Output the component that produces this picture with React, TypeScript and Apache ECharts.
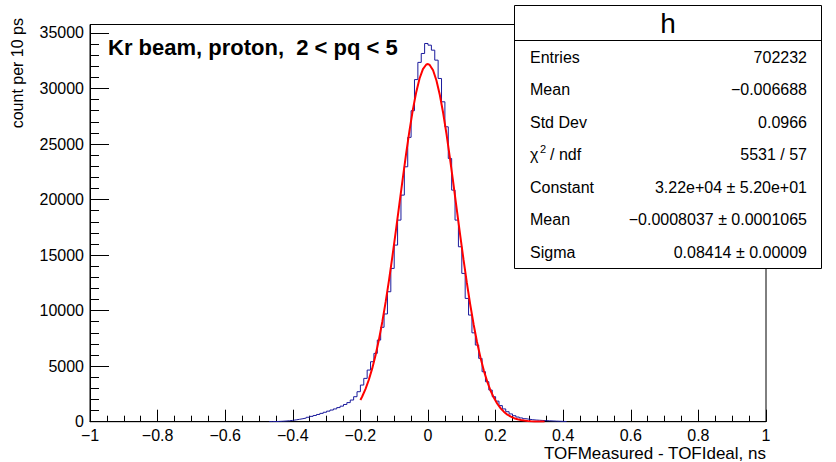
import React, { useEffect, useRef } from "react";
import * as echarts from "echarts";

// ---- data ----
const binWidth = 0.01; // 10 ps bins
const firstBinEdge = -0.47;
const binCounts = [
  8, 15, 25, 40, 60, 85, 120, 165, 215, 270, 330, 400, 480, 560, 650, 750, 850, 950, 1050, 1150,
  1270, 1400, 1550, 1720, 1950, 2250, 2700,
  3300, 3900, 4650, 5400, 6150, 7350, 8500, 9700, 11700, 13800, 15900, 18150, 20400, 22950, 25600,
  28000, 30800, 32350, 33150, 34050,
  33900, 33450, 32550, 30900, 28800, 26550, 23700, 20850, 18150, 15750, 13350, 11100, 9600, 8000,
  6900, 5700, 4500, 3600, 2850, 2250, 1850, 1450, 1150, 900, 700, 540, 420, 340, 270, 220, 180,
  150, 130, 110, 95, 80, 65, 50, 40, 30, 15,
];

const fitX = [
  -0.2, -0.195, -0.185, -0.175, -0.165, -0.155, -0.145, -0.135, -0.125, -0.115, -0.105, -0.095,
  -0.085, -0.075, -0.065, -0.055, -0.045, -0.035, -0.025, -0.015, -0.005, 0, 0.005, 0.015, 0.025,
  0.035, 0.045, 0.055, 0.065, 0.075, 0.085, 0.095, 0.105, 0.115, 0.125, 0.135, 0.145, 0.155, 0.165,
  0.175, 0.185, 0.195, 0.205, 0.215, 0.225, 0.235, 0.245, 0.255, 0.265, 0.275, 0.285, 0.295, 0.305,
  0.315, 0.325, 0.335, 0.345,
];
const fitY = [
  1955, 2245, 2933, 3777, 4798, 6005, 7416, 9026, 10832, 12819, 14957, 17205, 19516, 21826, 24067,
  26166, 28053, 29646, 30896, 31745, 32160, 32199, 32120, 31637, 30722, 29414, 27765, 25845, 23716,
  21458, 19146, 16841, 14606, 12490, 10529, 8755, 7177, 5799, 4621, 3629, 2811, 2148, 1617, 1201,
  879, 634, 451, 317, 219, 150, 100, 67, 44, 28, 18, 11, 7,
];

const xMin = -1;
const xMax = 1;
const xStep = 0.2;
const yMax = 35760;
const yMajorTicks = [0, 5000, 10000, 15000, 20000, 25000, 30000, 35000];
const yMinorStep = 1000;

const titleText = "Kr beam, proton,  2 < pq < 5";
const yTitle = "count per 10 ps";
const xTitle = "TOFMeasured - TOFIdeal, ns";

const statsTitle = "h";
const statLabels = ["Entries", "Mean", "Std Dev", "CHI2", "Constant", "Mean", "Sigma"];
const statValues = [
  "702232",
  "\u22120.006688",
  "0.0966",
  "5531 / 57",
  "3.22e+04 \u00b1 5.20e+01",
  "\u22120.0008037 \u00b1 0.0001065",
  "0.08414 \u00b1 0.00009",
];

const FONT = '"Liberation Sans", Arial, Helvetica, sans-serif';

export default function App() {
  const ref = useRef<HTMLDivElement>(null);

  useEffect(() => {
    document.body.style.margin = "0";
    if (!ref.current) return;
    const chart = echarts.init(ref.current, null, { renderer: "svg", width: 836, height: 462 });

    // histogram outline built from bins
    const r = (v: number) => Math.round(v * 1000) / 1000;
    const histPoints: number[][] = [];
    histPoints.push([r(firstBinEdge), 0]);
    binCounts.forEach((c, i) => {
      const e0 = r(firstBinEdge + i * binWidth);
      const e1 = r(firstBinEdge + (i + 1) * binWidth);
      histPoints.push([e0, c]);
      histPoints.push([e1, c]);
    });
    histPoints.push([r(firstBinEdge + binCounts.length * binWidth), 0]);

    const fitPoints = fitX.map((x, i) => [x, fitY[i]]);

    const yMinorTicks: number[] = [];
    for (let v = yMinorStep; v <= yMajorTicks[yMajorTicks.length - 1]; v += yMinorStep) {
      if (v % 5000 !== 0) yMinorTicks.push(v);
    }

    const fmtX = (v: number) => {
      const s = String(Math.round(v * 10) / 10);
      return s.replace("-", "\u2212");
    };
    const fmtY = (v: number) => String(Math.round(v));

    const boxL = 514.5;
    const boxR = 821.5;
    const boxT = 5.5;
    const boxB = 268.5;
    const rowY0 = 57;
    const rowStep = 32.5;

    const statsEls: any[] = [
      {
        type: "rect",
        z: 100,
        shape: { x: boxL, y: boxT, width: boxR - boxL, height: boxB - boxT },
        style: { fill: "#fff", stroke: "#000", lineWidth: 1 },
      },
      {
        type: "line",
        z: 101,
        shape: { x1: boxL, y1: 40.5, x2: boxR, y2: 40.5 },
        style: { stroke: "#000", lineWidth: 1 },
      },
      {
        type: "text",
        z: 101,
        x: (boxL + boxR) / 2,
        y: 23,
        style: {
          text: statsTitle,
          fontSize: 28,
          fontFamily: FONT,
          fill: "#000",
          textAlign: "center",
          textVerticalAlign: "middle",
        },
      },
    ];
    statLabels.forEach((lab, i) => {
      const y = rowY0 + i * rowStep;
      if (lab === "CHI2") {
        statsEls.push(
          {
            type: "text",
            z: 101,
            x: 530,
            y,
            style: { text: "\u03c7", fontSize: 16, fontFamily: FONT, fill: "#000", textAlign: "left", textVerticalAlign: "middle" },
          },
          {
            type: "text",
            z: 101,
            x: 540,
            y: y - 6,
            style: { text: "2", fontSize: 11, fontFamily: FONT, fill: "#000", textAlign: "left", textVerticalAlign: "middle" },
          },
          {
            type: "text",
            z: 101,
            x: 550,
            y,
            style: { text: "/ ndf", fontSize: 16, fontFamily: FONT, fill: "#000", textAlign: "left", textVerticalAlign: "middle" },
          }
        );
      } else {
        statsEls.push({
          type: "text",
          z: 101,
          x: 530,
          y,
          style: { text: lab, fontSize: 16, fontFamily: FONT, fill: "#000", textAlign: "left", textVerticalAlign: "middle" },
        });
      }
      statsEls.push({
        type: "text",
        z: 101,
        x: 807,
        y,
        style: { text: statValues[i], fontSize: 16, fontFamily: FONT, fill: "#000", textAlign: "right", textVerticalAlign: "middle" },
      });
    });

    const option: any = {
      animation: false,
      backgroundColor: "#fff",
      grid: {
        left: 90,
        right: 70,
        top: 24.5,
        bottom: 40.3,
        show: true,
        borderColor: "#000",
        borderWidth: 1,
        backgroundColor: "transparent",
      },
      xAxis: {
        type: "value",
        min: xMin,
        max: xMax,
        interval: xStep,
        axisLine: { show: true, onZero: false, lineStyle: { color: "#000", width: 1 } },
        axisTick: { show: true, inside: true, length: 12, lineStyle: { color: "#000", width: 1 } },
        minorTick: { show: true, splitNumber: 4, length: 6, lineStyle: { color: "#000", width: 1 } },
        splitLine: { show: false },
        minorSplitLine: { show: false },
        axisLabel: { color: "#000", fontSize: 16, lineHeight: 16, fontFamily: FONT, margin: 6, formatter: fmtX },
      },
      yAxis: [
        {
          type: "value",
          min: 0,
          max: yMax,
          position: "left",
          axisLine: { show: true, onZero: false, lineStyle: { color: "#000", width: 1 } },
          axisTick: { show: true, inside: true, length: 19, customValues: yMajorTicks, lineStyle: { color: "#000", width: 1 } },
          axisLabel: {
            color: "#000",
            fontSize: 16,
            lineHeight: 11,
            fontFamily: FONT,
            margin: 6,
            customValues: yMajorTicks,
            formatter: fmtY,
          },
          splitLine: { show: false },
        },
        {
          type: "value",
          min: 0,
          max: yMax,
          position: "left",
          offset: 0,
          axisLine: { show: false, onZero: false },
          axisTick: { show: true, inside: true, length: 9, customValues: yMinorTicks, lineStyle: { color: "#000", width: 1 } },
          axisLabel: { show: false },
          splitLine: { show: false },
        },
      ],
      series: [
        {
          type: "line",
          name: "h",
          data: histPoints,
          showSymbol: false,
          symbol: "none",
          lineStyle: { color: "#1a1a9c", width: 1 },
          z: 2,
        },
        {
          type: "line",
          name: "fit",
          data: fitPoints,
          showSymbol: false,
          symbol: "none",
          lineStyle: { color: "#ff0000", width: 2 },
          z: 3,
        },
      ],
      graphic: [
        {
          type: "text",
          z: 50,
          x: 108,
          y: 47,
          style: {
            text: titleText,
            fontSize: 22,
            fontWeight: "bold",
            fontFamily: FONT,
            fill: "#000",
            textAlign: "left",
            textVerticalAlign: "middle",
          },
        },
        {
          type: "text",
          z: 50,
          x: 17.5,
          y: 18,
          rotation: Math.PI / 2,
          style: {
            text: yTitle,
            fontSize: 16,
            fontFamily: FONT,
            fill: "#000",
            textAlign: "right",
            textVerticalAlign: "middle",
          },
        },
        {
          type: "text",
          z: 50,
          x: 766,
          y: 453,
          style: {
            text: xTitle,
            fontSize: 17,
            lineHeight: 17,
            fontFamily: FONT,
            fill: "#000",
            textAlign: "right",
            textVerticalAlign: "middle",
          },
        },
        ...statsEls,
      ],
    };

    chart.setOption(option);
    return () => chart.dispose();
  }, []);

  return <div ref={ref} style={{ width: 836, height: 462 }} />;
}
